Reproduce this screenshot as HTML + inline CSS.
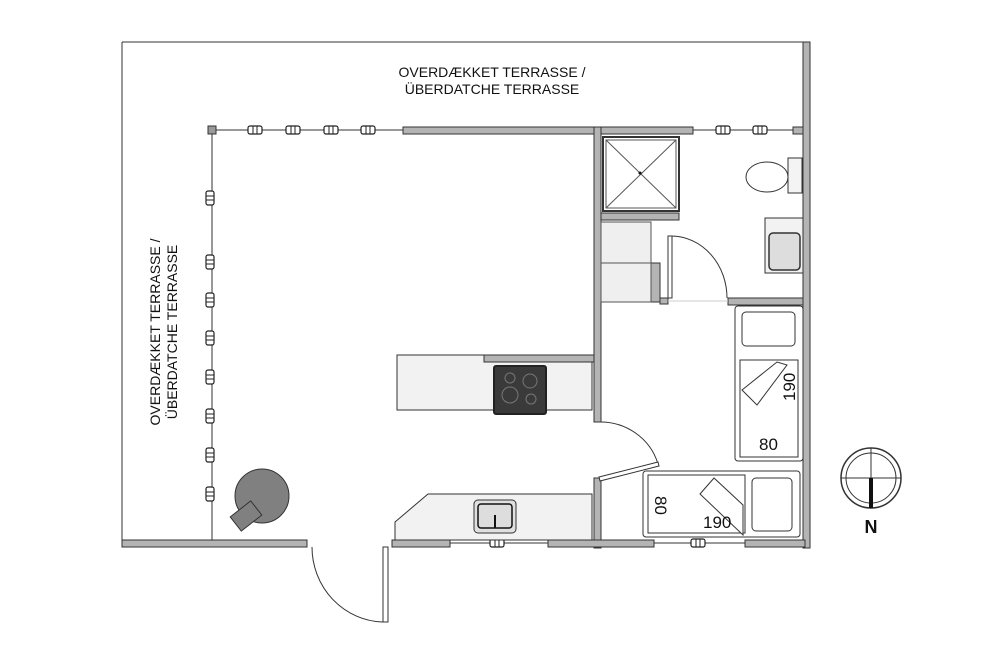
<!DOCTYPE html>
<html><head><meta charset="utf-8"><style>body{margin:0;background:#fff}svg{display:block}text{font-family:"Liberation Sans",sans-serif;fill:#111}</style></head><body>
<svg width="1000" height="659" viewBox="0 0 1000 659" xmlns="http://www.w3.org/2000/svg">
<defs>
<g id="wh"><rect x="-7" y="-4" width="14" height="8" rx="2" fill="#fff" stroke="#222" stroke-width="1.2"/><line x1="-2" y1="-4" x2="-2" y2="4" stroke="#222"/><line x1="2" y1="-4" x2="2" y2="4" stroke="#222"/></g>
<g id="wv"><rect x="-4" y="-7" width="8" height="14" rx="2" fill="#fff" stroke="#222" stroke-width="1.2"/><line x1="-4" y1="-2" x2="4" y2="-2" stroke="#222"/><line x1="-4" y1="2" x2="4" y2="2" stroke="#222"/></g>
</defs>
<g stroke="#333" fill="none">
<line x1="122" y1="42" x2="806" y2="42"/><line x1="122" y1="42" x2="122" y2="544"/>
</g>
<g fill="#b4b4b4" stroke="#333" stroke-width="1">
<rect x="803" y="42" width="7" height="506"/>
<rect x="403" y="127" width="290" height="7"/>
<rect x="594" y="127" width="7" height="295"/>
<rect x="594" y="478" width="7" height="70"/>
<rect x="122" y="540" width="185" height="7"/>
<rect x="392" y="540" width="58" height="7"/>
<rect x="548" y="540" width="106" height="7"/>
<rect x="745" y="540" width="60" height="7"/>
<rect x="601" y="213" width="78" height="7"/>
<rect x="651" y="263" width="9" height="39"/>
<rect x="660" y="298" width="8" height="6"/>
<rect x="728" y="298" width="75" height="7"/>
<rect x="208" y="126" width="8" height="8" fill="#999"/>
<rect x="793" y="127" width="10" height="7"/>
</g>
<g stroke="#333" stroke-width="1">
<line x1="216" y1="130" x2="403" y2="130"/>
<line x1="693" y1="130" x2="793" y2="130"/>
<line x1="212" y1="134" x2="212" y2="540"/>
<line x1="450" y1="543" x2="548" y2="543"/>
<line x1="654" y1="543" x2="745" y2="543"/>
</g>
<use href="#wh" x="255" y="130"/><use href="#wh" x="293" y="130"/><use href="#wh" x="331" y="130"/><use href="#wh" x="368" y="130"/>
<use href="#wh" x="723" y="130"/><use href="#wh" x="760" y="130"/>
<use href="#wh" x="497" y="543"/><use href="#wh" x="698" y="543"/>
<use href="#wv" x="210" y="198"/><use href="#wv" x="210" y="262"/><use href="#wv" x="210" y="300"/><use href="#wv" x="210" y="338"/><use href="#wv" x="210" y="377"/><use href="#wv" x="210" y="416"/><use href="#wv" x="210" y="455"/><use href="#wv" x="210" y="494"/>
<rect x="603" y="137" width="76" height="74" fill="#fff" stroke="#333" stroke-width="2"/>
<rect x="606" y="140" width="70" height="68" fill="none" stroke="#555"/>
<line x1="606" y1="140" x2="676" y2="208" stroke="#555"/><line x1="676" y1="140" x2="606" y2="208" stroke="#555"/>
<circle cx="640" cy="173" r="1.5" fill="#111"/>
<rect x="601" y="222" width="50" height="80" fill="#efefef" stroke="#555"/><line x1="601" y1="263" x2="651" y2="263" stroke="#555"/>
<rect x="668" y="236" width="4" height="62" fill="#fff" stroke="#333"/>
<path d="M672 236 A56 62 0 0 1 727 298" fill="none" stroke="#333"/>
<line x1="668" y1="301" x2="728" y2="301" stroke="#ccc"/>
<ellipse cx="767" cy="177" rx="21" ry="15" fill="#fff" stroke="#333"/>
<rect x="788" y="158" width="14" height="35" fill="#f4f4f4" stroke="#333"/>
<rect x="765" y="218" width="38" height="55" fill="#f2f2f2" stroke="#333"/>
<rect x="769" y="233" width="31" height="37" rx="4" fill="#ddd" stroke="#333" stroke-width="1.5"/>
<rect x="735" y="306" width="68" height="155" rx="3" fill="#fff" stroke="#333"/>
<rect x="740" y="360" width="58" height="97" fill="none" stroke="#333"/>
<rect x="742" y="312" width="53" height="34" rx="4" fill="#fff" stroke="#333"/>
<path d="M742 390 L777 362 L787 365 L757 405 Z" fill="#fff" stroke="#333"/>
<text x="0" y="0" font-size="17" transform="translate(795,401) rotate(-90)">190</text>
<text x="759" y="450" font-size="17">80</text>
<rect x="643" y="471" width="157" height="66" rx="3" fill="#fff" stroke="#333"/>
<rect x="648" y="475" width="97" height="58" fill="none" stroke="#333"/>
<rect x="752" y="478" width="40" height="53" rx="4" fill="#fff" stroke="#333"/>
<path d="M700 494 L714 478 L743 505 L743 535 Z" fill="#fff" stroke="#333"/>
<text font-size="17" transform="translate(655,496) rotate(90)">80</text>
<text x="703" y="528" font-size="17">190</text>
<path d="M598 422 A60 58 0 0 1 658 464" fill="none" stroke="#333"/>
<path d="M599 477 L658 462 L659 466 L600 481 Z" fill="#fff" stroke="#333"/>
<rect x="397" y="355" width="195" height="55" fill="#f2f2f2" stroke="#333"/>
<rect x="484" y="355" width="110" height="7" fill="#b4b4b4" stroke="#333"/>
<rect x="494" y="366" width="52" height="48" rx="2" fill="#3a3a3a" stroke="#222" stroke-width="2"/>
<g fill="none" stroke="#777"><circle cx="510" cy="378" r="5"/><circle cx="530" cy="381" r="7"/><circle cx="510" cy="395" r="8"/><circle cx="531" cy="399" r="5"/></g>
<path d="M395 522 L428 494 L592 494 L592 540 L395 540 Z" fill="#f2f2f2" stroke="#333"/>
<rect x="474" y="500" width="42" height="33" rx="4" fill="#e0e0e0" stroke="#333"/>
<rect x="478" y="504" width="34" height="24" rx="3" fill="#ddd" stroke="#111" stroke-width="1.5"/>
<line x1="495" y1="515" x2="495" y2="528" stroke="#111" stroke-width="2"/>
<rect x="383" y="547" width="5" height="75" fill="#fff" stroke="#333"/>
<path d="M312 547 A73 75 0 0 0 383 622" fill="none" stroke="#333"/>
<circle cx="262" cy="496" r="27" fill="#808080" stroke="#333"/>
<rect x="-13" y="-9" width="26" height="18" fill="#808080" stroke="#333" transform="translate(246,516) rotate(-38)"/>
<text x="492" y="77" font-size="14" text-anchor="middle">OVERDÆKKET TERRASSE /</text>
<text x="492" y="94" font-size="14" text-anchor="middle">ÜBERDATCHE TERRASSE</text>
<text font-size="14" text-anchor="middle" transform="translate(160,332) rotate(-90)">OVERDÆKKET TERRASSE /</text>
<text font-size="14" text-anchor="middle" transform="translate(177,332) rotate(-90)">ÜBERDATCHE TERRASSE</text>
<circle cx="871" cy="478" r="30" fill="none" stroke="#333" stroke-width="1.5"/>
<circle cx="871" cy="478" r="25" fill="none" stroke="#333"/>
<line x1="841" y1="478" x2="901" y2="478" stroke="#333"/><line x1="871" y1="448" x2="871" y2="508" stroke="#333"/>
<line x1="871" y1="478" x2="871" y2="508" stroke="#111" stroke-width="4"/>
<text x="871" y="533" font-size="18" font-weight="bold" text-anchor="middle">N</text>
</svg>
</body></html>
